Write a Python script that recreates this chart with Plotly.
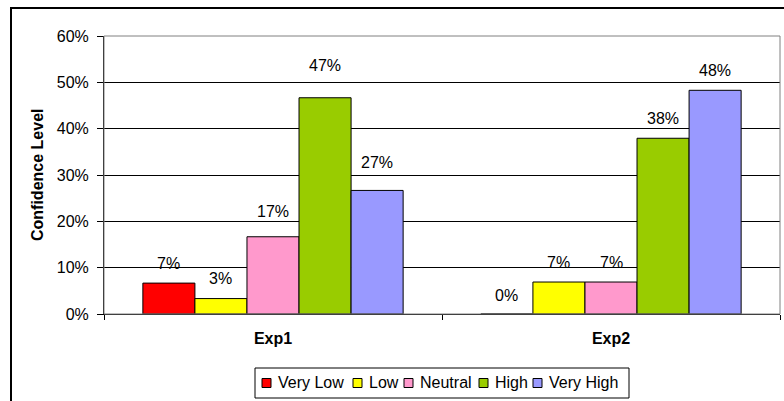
import plotly.graph_objects as go

# Survey results: share of respondents per confidence level
experiments = ["Exp1", "Exp2"]
levels = ["Very Low", "Low", "Neutral", "High", "Very High"]
very_low = [6.67, 0.0]
low = [3.33, 6.90]
neutral = [16.67, 6.90]
high = [46.67, 37.93]
very_high = [26.67, 48.28]
series_values = [very_low, low, neutral, high, very_high]
y_ticks = [0, 10, 20, 30, 40, 50, 60]

colors = ["#FF0000", "#FFFF00", "#FF99CC", "#99CC00", "#9999FF"]
# vertical lift of each value label above its bar (px), per series, per experiment
label_lift = [[20, 19], [20, 20], [25, 20], [32, 20], [28, 20]]

W, H = 784, 401
ML, MR, MT, MB = 104, 4, 36, 87
PW, PH = W - ML - MR, H - MT - MB
BARGAP = 0.23
FONT = "Arial, Liberation Sans, Helvetica, sans-serif"
FS = 16

# legend box and swatch placement (page pixels)
LEG_BOX = (255, 629, 368, 398)
LEG_SWATCH_X = [262, 353, 404, 479, 533]
LEG_SWATCH = 9
LEG_MID_Y = 383


def px_x(px):
    return (px - ML) / PW


def px_y(py):
    return 1 - (py - MT) / PH


fig = go.Figure()
for name, vals, col in zip(levels, series_values, colors):
    fig.add_trace(go.Bar(
        name=name, x=experiments, y=vals,
        marker=dict(color=col, line=dict(color="#000000", width=1)),
        hoverinfo="skip", showlegend=False,
    ))

# value labels centred over each bar
cat_px = PW / len(experiments)
bar_px = cat_px * (1 - BARGAP) / len(levels)
annotations = []
for i, vals in enumerate(series_values):
    for j, v in enumerate(vals):
        annotations.append(dict(
            x=experiments[j], y=v, xref="x", yref="y",
            text=f"{round(v)}%", showarrow=False,
            xanchor="center", yanchor="middle",
            xshift=(i - (len(levels) - 1) / 2) * bar_px,
            yshift=label_lift[i][j],
            font=dict(family=FONT, size=FS, color="#000000"),
        ))

# y axis title
annotations.append(dict(
    x=px_x(37), y=0.5, xref="paper", yref="paper",
    xanchor="center", yanchor="middle",
    text="<b>Confidence Level</b>", textangle=-90, showarrow=False,
    font=dict(family=FONT, size=FS, color="#000000"),
))

shapes = [
    # plot area frame (top / right)
    dict(type="rect", xref="paper", yref="paper", x0=0, x1=1, y0=0, y1=1,
         line=dict(color="#808080", width=1), layer="above"),
    # outer chart border
    dict(type="rect", xref="paper", yref="paper",
         x0=px_x(11), x1=1.2, y0=-0.6, y1=px_y(8),
         line=dict(color="#000000", width=2), layer="above"),
    # legend frame
    dict(type="rect", xref="paper", yref="paper",
         x0=px_x(LEG_BOX[0]), x1=px_x(LEG_BOX[1]),
         y0=px_y(LEG_BOX[3]), y1=px_y(LEG_BOX[2]),
         line=dict(color="#000000", width=1), fillcolor="#FFFFFF", layer="above"),
]

# legend entries
for name, col, sx in zip(levels, colors, LEG_SWATCH_X):
    shapes.append(dict(
        type="rect", xref="paper", yref="paper",
        x0=px_x(sx), x1=px_x(sx + LEG_SWATCH),
        y0=px_y(LEG_MID_Y + LEG_SWATCH / 2), y1=px_y(LEG_MID_Y - LEG_SWATCH / 2),
        line=dict(color="#000000", width=1), fillcolor=col, layer="above",
    ))
    annotations.append(dict(
        x=px_x(sx + LEG_SWATCH + 5), y=px_y(LEG_MID_Y - 1),
        xref="paper", yref="paper", xanchor="left", yanchor="middle",
        text=name, showarrow=False,
        font=dict(family=FONT, size=FS, color="#000000"),
    ))

fig.update_layout(
    width=W, height=H,
    margin=dict(l=ML, r=MR, t=MT, b=MB),
    paper_bgcolor="#FFFFFF", plot_bgcolor="#FFFFFF",
    barmode="group", bargap=BARGAP, bargroupgap=0,
    font=dict(family=FONT, size=FS, color="#000000"),
    showlegend=False,
    annotations=annotations,
    shapes=shapes,
)

fig.update_xaxes(
    type="category", showline=True, linecolor="#000000", linewidth=1,
    ticks="outside", tickson="boundaries", ticklen=5, tickcolor="#000000",
    tickfont=dict(family=FONT, size=FS, color="#000000", weight="bold"),
    ticklabelstandoff=10, showgrid=False, zeroline=False,
)
fig.update_yaxes(
    range=[0, 60], tickvals=y_ticks, ticktext=[f"{t}%" for t in y_ticks],
    showline=True, linecolor="#000000", linewidth=1,
    ticks="outside", ticklen=6, tickcolor="#000000",
    tickfont=dict(family=FONT, size=FS, color="#000000"),
    ticklabelstandoff=5,
    showgrid=True, gridcolor="#000000", gridwidth=1, zeroline=False,
)

fig.write_html("out.html")
